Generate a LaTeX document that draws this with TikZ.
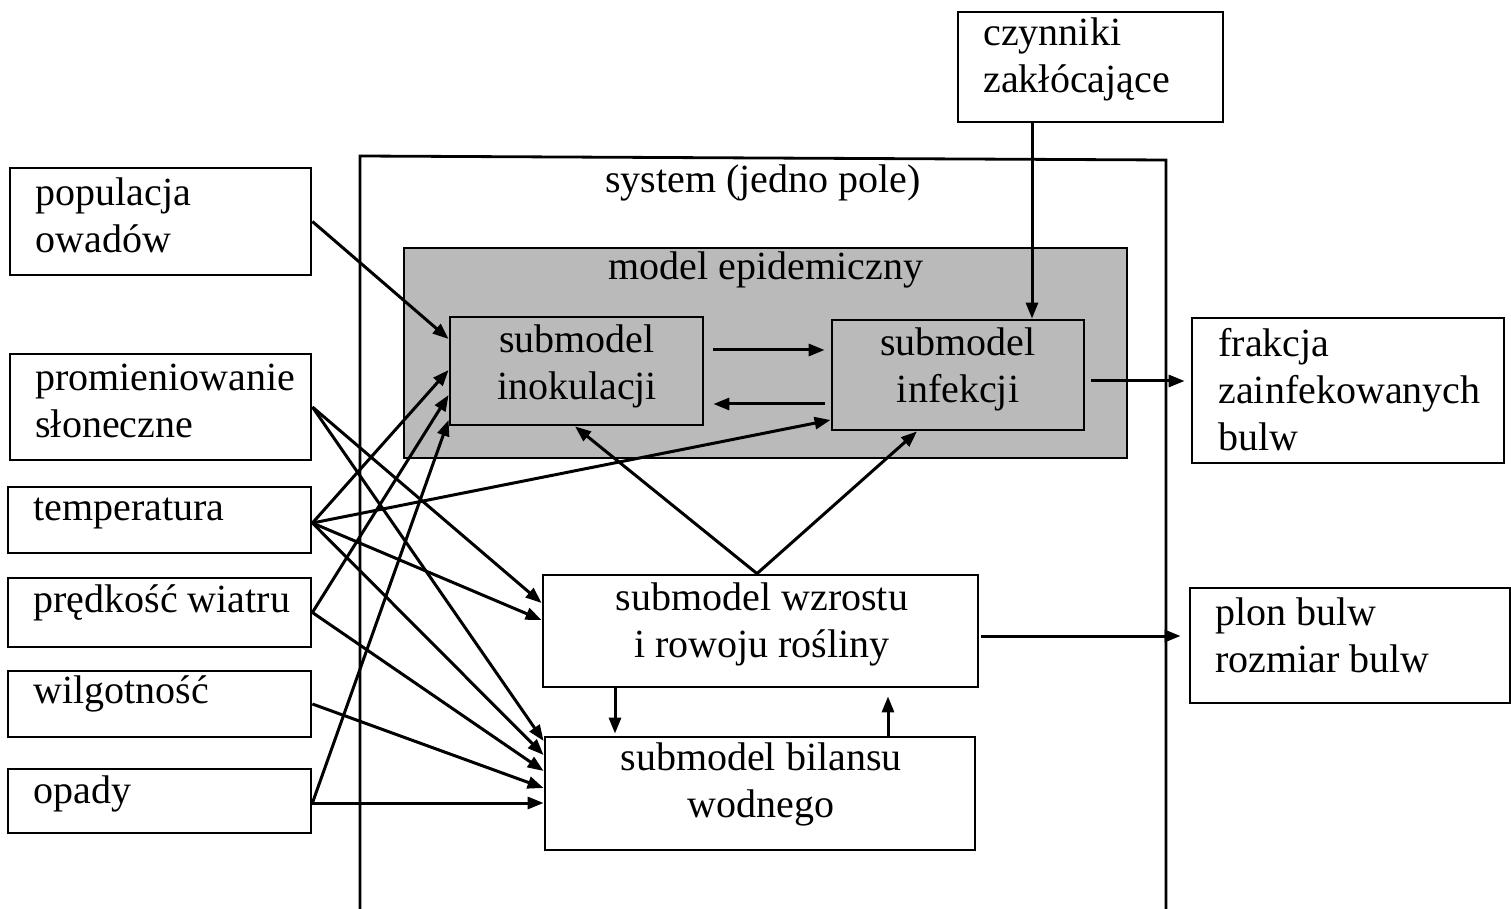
\documentclass[tikz,border=0pt]{standalone}
\usepackage{fontspec}
\setmainfont{Liberation Serif}
\usetikzlibrary{arrows.meta,fit}
\begin{document}
\begin{tikzpicture}[x=0.5pt,y=-0.5pt,
  bx/.style={draw, line width=1.4pt, inner sep=0pt},
  sh/.style={bx, fill=black!27},
  lbl/.style={font=\fontsize{20}{23.5}\selectfont, inner sep=0pt, align=left, anchor=west},
  clbl/.style={font=\fontsize{20}{23.5}\selectfont, inner sep=0pt, align=center},
  ar/.style={line width=1.5pt, -{Triangle[length=8pt,width=6pt]}}]
\useasboundingbox (0,0) rectangle (1511,909);
% system frame
\draw[line width=1.4pt] (360,909) -- (360,156) -- (1166,160) -- (1166,909);
\node[clbl] (syst) at (763,183) {system (jedno pole)};
% epidemic model
\node[sh, fit={(404,248) (1127,458)}] (epi) {};
\node[clbl] (epit) at (766,270) {model epidemiczny};
\node[sh, fit={(450,317) (703,425)}] (inok) {};
\node[clbl] (inokt) at (577,366) {submodel\\inokulacji};
\node[sh, fit={(832,320) (1084,430)}] (inf) {};
\node[clbl] (inft) at (958,369) {submodel\\infekcji};
% plant submodels
\node[bx, fit={(543,575) (978,687)}] (wzr) {};
\node[clbl] (wzrt) at (762,624) {submodel wzrostu\\i rowoju rośliny};
\node[bx, fit={(545,737) (975,850)}] (bil) {};
\node[clbl] (bilt) at (761,784) {submodel bilansu\\wodnego};
% inputs
\node[bx, fit={(10,168) (311,275)}] (pop) {};
\node[lbl] (popt) at (35,215) {populacja\\owadów};
\node[bx, fit={(10,354) (311,460)}] (prom) {};
\node[lbl] (promt) at (35,401) {promieniowanie\\słoneczne};
\node[bx, fit={(8,487) (311,553)}] (temp) {};
\node[lbl] (tempt) at (33,513) {temperatura};
\node[bx, fit={(8,578) (311,647)}] (pred) {};
\node[lbl] (predt) at (33,603) {prędkość wiatru};
\node[bx, fit={(8,671) (311,737)}] (wilg) {};
\node[lbl] (wilgt) at (33,694) {wilgotność};
\node[bx, fit={(8,769) (311,833)}] (opady) {};
\node[lbl] (opadyt) at (33,794) {opady};
\node[bx, fit={(958,12) (1223,122)}] (czyn) {};
\node[lbl] (czynt) at (983,59) {czynniki\\zakłócające};
% outputs
\node[bx, fit={(1192,318) (1504,463)}] (frak) {};
\node[lbl] (frakt) at (1218,390) {frakcja\\zainfekowanych\\bulw};
\node[bx, fit={(1190,588) (1510,703)}] (plon) {};
\node[lbl] (plont) at (1215,635) {plon bulw\\rozmiar bulw};
% arrows from inputs
\draw[ar] (pop.east) -- (inok.west |- 0,339);
\draw[ar] (prom.east) -- (wzr.west |- 0,603);
\draw[ar] (prom.east) -- (bil.west |- 0,741);
\draw[ar] (temp.east |- 0,523) -- (inok.west |- 0,370);
\draw[ar] (temp.east |- 0,523) -- (inf.west |- 0,420);
\draw[ar] (temp.east |- 0,523) -- (wzr.west |- 0,620);
\draw[ar] (temp.east |- 0,523) -- (bil.west |- 0,755);
\draw[ar] (pred.east) -- (inok.west |- 0,395);
\draw[ar] (pred.east) -- (bil.west |- 0,771);
\draw[ar] (wilg.east) -- (bil.west |- 0,788);
\draw[ar] (opady.east |- 0,803) -- (inok.west |- 0,420);
\draw[ar] (opady.east |- 0,803) -- (bil.west |- 0,803);
% internal arrows
\draw[ar, shorten <=4.5pt, shorten >=3pt] (inok.east |- 0,350) -- (inf.west |- 0,350);
\draw[ar, shorten <=3pt, shorten >=4.5pt] (inf.west |- 0,404) -- (inok.east |- 0,404);
\draw[ar] (wzr.north -| 757,0) -- (inok.south -| 575,0);
\draw[ar] (wzr.north -| 757,0) -- (inf.south -| 917,0);
\draw[ar] (czyn.south -| 1032,0) -- (inf.north -| 1032,0);
\draw[ar, shorten <=3pt, shorten >=3pt] (inf.east |- 0,381) -- (frak.west |- 0,381);
\draw[ar, shorten <=1pt, shorten >=4pt] (wzr.east |- 0,636) -- (plon.west |- 0,636);
\draw[ar, shorten >=1pt] (wzr.south -| 615,0) -- (bil.north -| 615,0);
\draw[ar, shorten >=4pt] (bil.north -| 888,0) -- (wzr.south -| 888,0);
\end{tikzpicture}
\end{document}
